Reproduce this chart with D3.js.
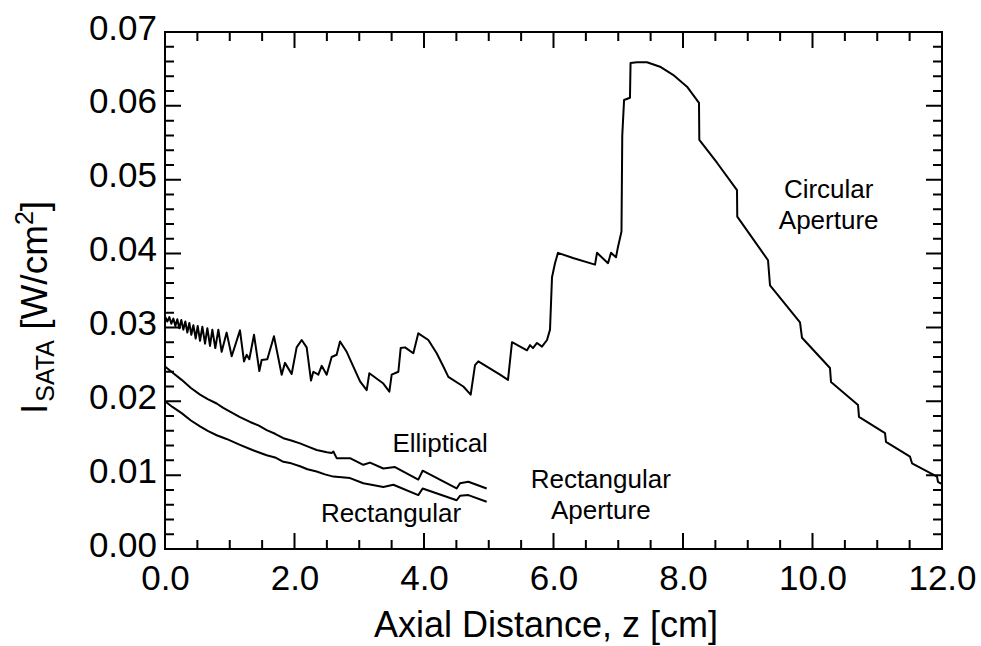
<!doctype html>
<html>
  <head>
    <title>isata</title>
    <script src="https://cdn.jsdelivr.net/npm/d3@7"></script>
    <style>
      body { margin: 0; background: #fff; }
      text { font-family: "Liberation Sans", Arial, sans-serif; fill: #000; }
    </style>
  </head>
  <body>
  <script>

// circular aperture curve: axial distance z [cm] and I_SATA [W/cm^2]
const circZ = [0, 0.036, 0.067, 0.098, 0.129, 0.160, 0.190, 0.221, 0.252, 0.283, 0.314, 0.345, 0.376, 0.407, 0.438,
  0.474, 0.505, 0.541, 0.577, 0.618, 0.654, 0.695, 0.731, 0.777, 0.824, 0.875, 0.952, 1.030, 1.158, 1.220, 1.261,
  1.302, 1.375, 1.457, 1.493, 1.580, 1.683, 1.802, 1.853, 1.956, 2.033, 2.111, 2.188, 2.255, 2.291, 2.368, 2.420,
  2.497, 2.574, 2.651, 2.703, 2.806, 2.909, 3.012, 3.115, 3.156, 3.372, 3.465, 3.501, 3.604, 3.640, 3.707, 3.835,
  3.912, 4.067, 4.196, 4.299, 4.376, 4.607, 4.721, 4.788, 4.839, 5.174, 5.297, 5.359, 5.591, 5.637, 5.683, 5.745,
  5.822, 5.900, 5.946, 5.977, 6.023, 6.069, 6.301, 6.641, 6.672, 6.842, 6.888, 6.965, 6.996, 7.050, 7.062, 7.090,
  7.181, 7.190, 7.290, 7.444, 7.645, 7.846, 8.062, 8.247, 8.252, 8.525, 8.834, 8.838, 9.313, 9.344, 9.807, 9.838,
  10.270, 10.286, 10.703, 10.718, 11.120, 11.135, 11.506, 11.537, 11.923, 11.938, 12.0];
const circI = [0.0315, 0.0308, 0.0314, 0.0305, 0.0312, 0.0302, 0.0311, 0.0299, 0.0310, 0.0297, 0.0308, 0.0293, 0.0306, 0.0290, 0.0303,
  0.0285, 0.0302, 0.0282, 0.0301, 0.0278, 0.0299, 0.0275, 0.0297, 0.0272, 0.0297, 0.0267, 0.0293, 0.0261, 0.0296, 0.0254, 0.0263,
  0.0257, 0.0290, 0.0241, 0.0256, 0.0257, 0.0288, 0.0236, 0.0252, 0.0237, 0.0273, 0.0283, 0.0273, 0.0228, 0.0240, 0.0236, 0.0248,
  0.0236, 0.0260, 0.0263, 0.0281, 0.0267, 0.0247, 0.0227, 0.0215, 0.0238, 0.0224, 0.0213, 0.0236, 0.0240, 0.0272, 0.0273, 0.0265,
  0.0292, 0.0283, 0.0265, 0.0247, 0.0233, 0.0220, 0.0209, 0.0249, 0.0254, 0.0236, 0.0229, 0.0280, 0.0269, 0.0276, 0.0272, 0.0279,
  0.0274, 0.0283, 0.0297, 0.0368, 0.0387, 0.0401, 0.0394, 0.0385, 0.0401, 0.0387, 0.0401, 0.0395, 0.0409, 0.0430, 0.0560, 0.0608,
  0.0611, 0.0658, 0.0659, 0.0659, 0.0653, 0.0642, 0.0626, 0.0604, 0.0554, 0.0523, 0.0486, 0.0450, 0.0391, 0.0357, 0.0307, 0.0286,
  0.0245, 0.0226, 0.0195, 0.0179, 0.0157, 0.0145, 0.0125, 0.0116, 0.0098, 0.0091, 0.0088];

// rectangular aperture, elliptical and rectangular focusing
const ellZ = [0, 0.10, 0.257, 0.40, 0.541, 0.66, 0.798, 0.90, 1.004, 1.15, 1.313, 1.45, 1.570, 1.70, 1.828, 1.95, 2.085, 2.20,
  2.342, 2.50, 2.574, 2.60, 2.651, 2.857, 3.063, 3.166, 3.372, 3.552, 3.912, 3.979, 4.504, 4.556, 4.685, 4.968];
const ellI = [0.0247, 0.0240, 0.0229, 0.0218, 0.0209, 0.0203, 0.0197, 0.0191, 0.0186, 0.0179, 0.0172, 0.0167, 0.0161, 0.0156, 0.0150, 0.0147, 0.0143, 0.0139,
  0.0134, 0.0131, 0.0130, 0.0132, 0.0123, 0.0123, 0.0114, 0.0117, 0.0109, 0.0111, 0.0094, 0.0106, 0.0082, 0.0089, 0.0091, 0.0082];
const rectZ = [0, 0.12, 0.257, 0.40, 0.541, 0.66, 0.798, 0.95, 1.158, 1.35, 1.570, 1.70, 1.828, 1.95, 2.085, 2.20, 2.342, 2.47,
  2.600, 2.857, 3.063, 3.372, 3.527, 3.912, 3.979, 4.504, 4.556, 4.685, 4.968];
const rectI = [0.0200, 0.0192, 0.0184, 0.0174, 0.0166, 0.0160, 0.0154, 0.0149, 0.0141, 0.0134, 0.0127, 0.0124, 0.0118, 0.0116, 0.0112, 0.0108, 0.0105, 0.0101,
  0.0098, 0.0096, 0.0089, 0.0084, 0.0087, 0.0073, 0.0082, 0.0066, 0.0072, 0.0073, 0.0064];

const xTickLabels = ["0.0", "2.0", "4.0", "6.0", "8.0", "10.0", "12.0"];
const yTickLabels = ["0.00", "0.01", "0.02", "0.03", "0.04", "0.05", "0.06", "0.07"];

const w = 981;
const h = 646;
const m = { left: 165, right: 942, top: 32, bottom: 549 };

const svg = d3.select("body")
  .append("svg")
  .attr("width", w)
  .attr("height", h);

const x = d3.scaleLinear().domain([0, 12]).range([m.left, m.right]);
const y = d3.scaleLinear().domain([0, 0.07]).range([m.bottom, m.top]);

// tick positions: major every 2 cm / 0.01, minor every 0.5 cm / 0.002
const xTicks = d3.range(0, 25).map(i => [i * 0.5, i % 4 === 0 ? 16 : 9]);
const yTicks = d3.range(0, 36).map(i => [i * 0.002, i % 5 === 0 ? 16 : 9]);

// tick labels through the axis generators
const xAxis = svg.append("g")
  .attr("transform", `translate(0,${m.bottom})`)
  .call(d3.axisBottom(x).tickValues(xTickLabels.map(Number)).tickSize(0).tickPadding(16)
    .tickFormat((d, i) => xTickLabels[i]));
xAxis.select(".domain").remove();
xAxis.selectAll("text").attr("font-size", 35).attr("fill", "#000")
  .attr("font-family", "Liberation Sans, Arial, sans-serif");

const yAxis = svg.append("g")
  .attr("transform", `translate(${m.left},0)`)
  .call(d3.axisLeft(y).tickValues(yTickLabels.map(Number)).tickSize(0).tickPadding(8)
    .tickFormat((d, i) => yTickLabels[i]));
yAxis.select(".domain").remove();
yAxis.selectAll("text").attr("font-size", 35).attr("dy", "0.2em").attr("fill", "#000")
  .attr("font-family", "Liberation Sans, Arial, sans-serif");

// each side of the frame as one polyline with inward spikes for the ticks
const sides = [[], [], [], []];
xTicks.forEach(([v, len]) => {
  const px = x(v);
  sides[0].push([px, m.bottom], [px, m.bottom - len], [px, m.bottom]);
  sides[1].push([px, m.top], [px, m.top + len], [px, m.top]);
});
yTicks.forEach(([v, len]) => {
  const py = y(v);
  sides[2].push([m.left, py], [m.left + len, py], [m.left, py]);
  sides[3].push([m.right, py], [m.right - len, py], [m.right, py]);
});
sides[2].push([m.left, m.top]);
sides[3].push([m.right, m.top]);

svg.selectAll("path.side")
  .data(sides)
  .enter()
  .append("path")
  .attr("class", "side")
  .attr("d", d3.line())
  .attr("fill", "none")
  .attr("stroke", "#000")
  .attr("stroke-width", 2)
  .attr("stroke-linejoin", "miter");

const line = d3.line().x(d => x(d[0])).y(d => y(d[1]));

const series = [
  d3.zip(circZ, circI),
  d3.zip(ellZ, ellI),
  d3.zip(rectZ, rectI)
];

svg.selectAll("path.curve")
  .data(series)
  .enter()
  .append("path")
  .attr("class", "curve")
  .attr("d", line)
  .attr("fill", "none")
  .attr("stroke", "#000")
  .attr("stroke-width", 2)
  .attr("stroke-linejoin", "round");

// annotations
function note(z, v, lines) {
  const t = svg.append("text")
    .attr("x", x(z)).attr("y", y(v))
    .attr("text-anchor", "middle")
    .attr("font-size", 26);
  lines.forEach((s, i) => {
    t.append("tspan").attr("x", x(z)).attr("dy", i === 0 ? 0 : 31).text(s);
  });
}
note(10.25, 0.0475, ["Circular", "Aperture"]);
note(4.25, 0.0131, ["Elliptical"]);
note(3.49, 0.0037, ["Rectangular"]);
note(6.73, 0.0083, ["Rectangular", "Aperture"]);

// axis titles
svg.append("text")
  .attr("x", 546).attr("y", 637)
  .attr("text-anchor", "middle")
  .attr("font-size", 36)
  .text("Axial Distance, z [cm]");

const yt = svg.append("text")
  .attr("transform", "translate(47,414) rotate(-90)")
  .attr("font-size", 37);
yt.append("tspan").text("I");
yt.append("tspan").attr("font-size", 25).attr("dy", 7).attr("dx", 2).text("SATA");
yt.append("tspan").attr("dy", -7).text(" [W/cm");
yt.append("tspan").attr("font-size", 25).attr("dy", -14).text("2");
yt.append("tspan").attr("dy", 14).text("]");

  </script>
</body>
</html>
